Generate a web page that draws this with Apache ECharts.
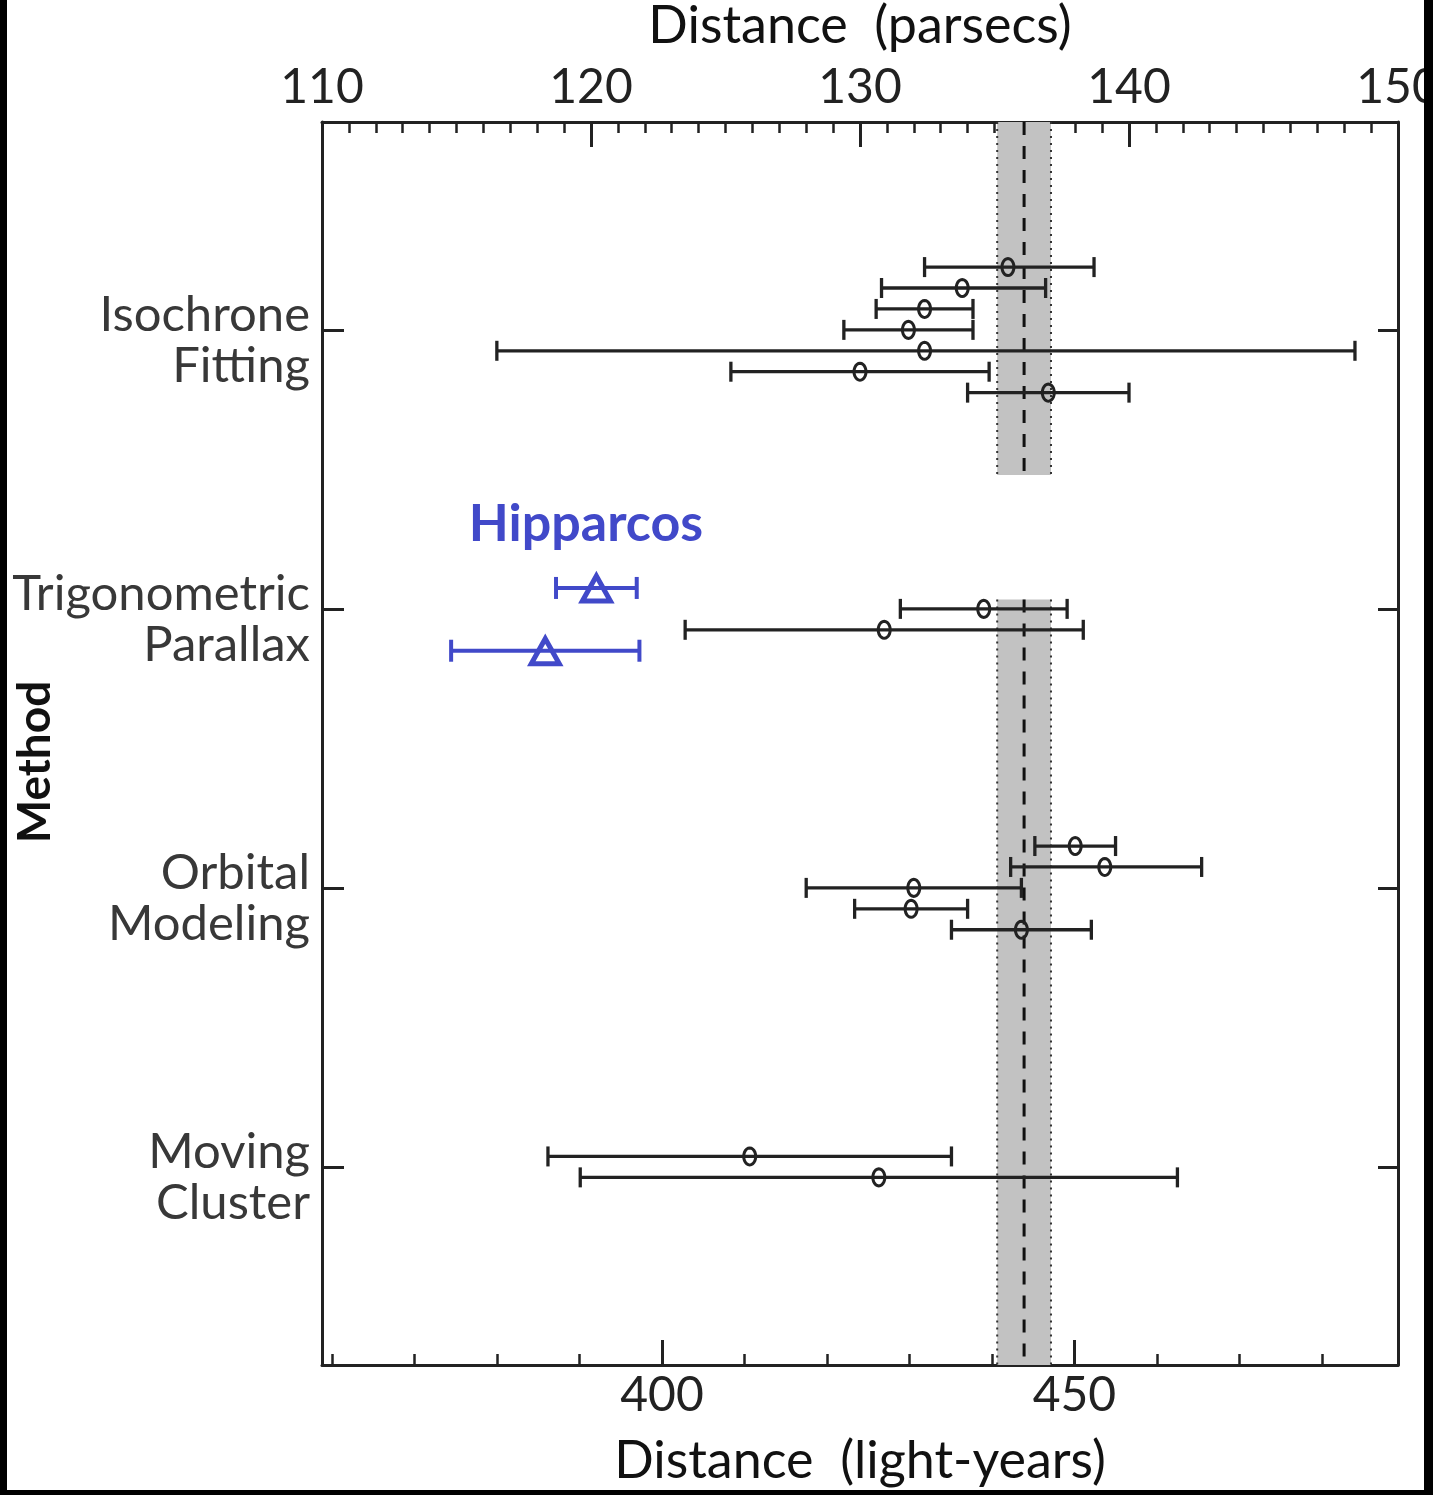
<!DOCTYPE html>
<html><head><meta charset="utf-8">
<script src="https://cdn.jsdelivr.net/npm/echarts@6/dist/echarts.min.js"></script>
<style>
html,body{margin:0;padding:0;background:#000;}
#wrap{position:relative;width:1433px;height:1495px;overflow:hidden;background:#000;}
#chart{position:absolute;left:0;top:0;width:1433px;height:1495px;}
.frame{position:absolute;background:#000;}
</style></head><body>
<div id="wrap">
<div id="chart"></div>
<div class="frame" style="left:0;top:0;width:7px;height:1495px"></div>
<div class="frame" style="left:1424px;top:0;width:9px;height:1495px"></div>
<div class="frame" style="left:0;top:1490px;width:1433px;height:5px"></div>
</div>
<script>
// ---------- data ----------
const methods = ['Isochrone\nFitting', 'Trigonometric\nParallax', 'Orbital\nModeling', 'Moving\nCluster'];
const topTicks = [110, 120, 130, 140, 150];          // parsecs
const lyMajorTicks = [400, 450];                      // light-years (labelled)
const lyMinorTicks = [360, 370, 380, 390, 400, 410, 420, 430, 440, 450, 460, 470, 480];
const PC_TO_LY = 3.26156;

// Isochrone fitting (pc)
const isoBest = [135.5, 133.8, 132.4, 131.8, 132.4, 130.0, 137.0];
const isoLow  = [132.4, 130.8, 130.6, 129.4, 116.5, 125.2, 134.0];
const isoHigh = [138.7, 136.9, 134.2, 134.2, 148.4, 134.8, 140.0];
const isoSlot = [-3, -2, -1, 0, 1, 2, 3];
// Trigonometric parallax (pc)
const trigBest = [134.6, 130.9];
const trigLow  = [131.5, 123.5];
const trigHigh = [137.7, 138.3];
const trigSlot = [0, 1];
// Hipparcos (pc)
const hipBest = [120.2, 118.3];
const hipLow  = [118.7, 114.8];
const hipHigh = [121.7, 121.8];
const hipSlot = [-1, 2];
// Orbital modeling (pc)
const orbBest = [138.0, 139.1, 132.0, 131.9, 136.0];
const orbLow  = [136.5, 135.6, 128.0, 129.8, 133.4];
const orbHigh = [139.5, 142.7, 136.0, 134.0, 138.6];
const orbSlot = [-2, -1, 0, 1, 2];
// Moving cluster (pc)
const mcBest = [125.9, 130.7];
const mcLow  = [118.4, 119.6];
const mcHigh = [133.4, 141.8];
const mcSlot = [-0.5, 0.5];
// VLBI reference distance (pc)
const vlbiDist = 136.1, vlbiLow = 135.1, vlbiHigh = 137.1;

// ---------- layout ----------
const SLOT = 0.075;
const Y_MIN = -0.745, Y_MAX = 3.71;
const BAND_GAP = [0.52, 0.966];
const FONT = 'Lato';
const DARK = '#222';
const BLUE = '#4149c9';

function rows(cat, best, low, high, slot) {
  return best.map((b, i) => [b, cat + slot[i] * SLOT, low[i], high[i]]);
}
const blackData = [].concat(
  rows(0, isoBest, isoLow, isoHigh, isoSlot),
  rows(1, trigBest, trigLow, trigHigh, trigSlot),
  rows(2, orbBest, orbLow, orbHigh, orbSlot),
  rows(3, mcBest, mcLow, mcHigh, mcSlot)
);
const blueData = rows(1, hipBest, hipLow, hipHigh, hipSlot);

function errRender(color, width, capHalf, markerFn) {
  return function (params, api) {
    const y = api.value(1);
    const c = api.coord([api.value(0), y]);
    const l = api.coord([api.value(2), y]);
    const h = api.coord([api.value(3), y]);
    const st = { stroke: color, lineWidth: width, fill: null };
    return {
      type: 'group',
      children: [
        { type: 'line', shape: { x1: l[0], y1: c[1], x2: h[0], y2: c[1] }, style: st },
        { type: 'line', shape: { x1: l[0], y1: c[1] - capHalf, x2: l[0], y2: c[1] + capHalf }, style: st },
        { type: 'line', shape: { x1: h[0], y1: c[1] - capHalf, x2: h[0], y2: c[1] + capHalf }, style: st },
        markerFn(c[0], c[1])
      ]
    };
  };
}
function ellipseMarker(cx, cy) {
  const pts = [];
  for (let k = 0; k < 24; k++) {
    const a = 2 * Math.PI * k / 24;
    pts.push([cx + 6 * Math.cos(a), cy + 8.5 * Math.sin(a)]);
  }
  return { type: 'polygon', shape: { points: pts }, style: { stroke: DARK, lineWidth: 3, fill: 'rgba(0,0,0,0)' } };
}
function triMarker(cx, cy) {
  return { type: 'polygon', shape: { points: [[cx, cy - 12], [cx + 14, cy + 13], [cx - 14, cy + 13]] },
           style: { stroke: BLUE, lineWidth: 5, fill: 'rgba(0,0,0,0)', lineJoin: 'miter' } };
}

const bandData = [
  [vlbiLow, vlbiHigh, vlbiDist, Y_MIN, BAND_GAP[0]],
  [vlbiLow, vlbiHigh, vlbiDist, BAND_GAP[1], Y_MAX]
];
function bandRender(params, api) {
  const a = api.coord([api.value(0), api.value(3)]);
  const b = api.coord([api.value(1), api.value(4)]);
  const m = api.coord([api.value(2), api.value(3)]);
  const top = Math.min(a[1], b[1]), bot = Math.max(a[1], b[1]);
  return {
    type: 'group',
    children: [
      { type: 'rect', shape: { x: a[0], y: top, width: b[0] - a[0], height: bot - top }, style: { fill: '#c2c2c2' } },
      { type: 'line', shape: { x1: a[0], y1: top, x2: a[0], y2: bot }, style: { stroke: '#333', lineWidth: 2, lineDash: [2, 5] } },
      { type: 'line', shape: { x1: b[0], y1: top, x2: b[0], y2: bot }, style: { stroke: '#333', lineWidth: 2, lineDash: [2, 5] } },
      { type: 'line', shape: { x1: m[0], y1: top, x2: m[0], y2: bot }, style: { stroke: '#111', lineWidth: 3, lineDash: [13, 11] } }
    ]
  };
}

const chart = echarts.init(document.getElementById('chart'), null, { renderer: 'canvas' });
const axisLineStyle = { color: '#222', width: 3 };
const labelStyle = { fontFamily: FONT, fontSize: 48, color: '#222' };
chart.setOption({
  backgroundColor: '#fff',
  animation: false,
  textStyle: { fontFamily: FONT },
  grid: { left: 322, top: 122, right: 35, bottom: 130, outerBoundsMode: 'none', containLabel: false },
  xAxis: [
    {
      type: 'value', position: 'top', min: topTicks[0], max: topTicks[topTicks.length - 1], interval: 10,
      axisLine: { show: true, onZero: false, lineStyle: axisLineStyle },
      axisTick: { show: true, inside: true, length: 25, lineStyle: { color: '#222', width: 3 } },
      minorTick: { show: true, splitNumber: 10, length: 11, lineStyle: { color: '#222', width: 2.5 } },
      splitLine: { show: false }, minorSplitLine: { show: false },
      axisLabel: Object.assign({ margin: 10 }, labelStyle),
      name: 'Distance  (parsecs)', nameLocation: 'middle', nameGap: 70,
      nameTextStyle: { fontFamily: FONT, fontSize: 52, color: '#111' }
    },
    {
      type: 'value', position: 'bottom', min: topTicks[0] * PC_TO_LY, max: topTicks[topTicks.length - 1] * PC_TO_LY,
      axisLine: { show: true, onZero: false, lineStyle: axisLineStyle },
      axisTick: { show: true, inside: true, length: 25, customValues: lyMajorTicks, lineStyle: { color: '#222', width: 3 } },
      splitLine: { show: false },
      axisLabel: Object.assign({ margin: 7, customValues: lyMajorTicks }, labelStyle),
      name: 'Distance  (light-years)', nameLocation: 'middle', nameGap: 70,
      nameTextStyle: { fontFamily: FONT, fontSize: 52, color: '#111' }
    },
    {
      type: 'value', position: 'bottom', min: topTicks[0] * PC_TO_LY, max: topTicks[topTicks.length - 1] * PC_TO_LY,
      axisLine: { show: false, onZero: false },
      axisTick: { show: true, inside: true, length: 11, customValues: lyMinorTicks, lineStyle: { color: '#222', width: 2.5 } },
      splitLine: { show: false },
      axisLabel: { show: false }
    }
  ],
  yAxis: [
    {
      type: 'value', position: 'left', inverse: true, min: Y_MIN, max: Y_MAX,
      axisLine: { show: true, onZero: false, lineStyle: axisLineStyle },
      axisTick: { show: true, inside: true, length: 22, customValues: [0, 1, 2, 3], lineStyle: { color: '#222', width: 3 } },
      splitLine: { show: false },
      axisLabel: {
        customValues: [0, 1, 2, 3],
        formatter: v => '{s| }\n' + methods[Math.round(v)].split('\n').map(t => '{a|' + t + '}').join('\n'),
        margin: 12, align: 'right',
        rich: {
          s: { fontSize: 10, lineHeight: 22 },
          a: { fontFamily: FONT, fontSize: 49, lineHeight: 51, color: '#383838' }
        }
      }
    },
    {
      type: 'value', position: 'right', inverse: true, min: Y_MIN, max: Y_MAX,
      axisLine: { show: true, onZero: false, lineStyle: axisLineStyle },
      axisTick: { show: true, inside: true, length: 20, customValues: [0, 1, 2, 3], lineStyle: { color: '#222', width: 3 } },
      splitLine: { show: false },
      axisLabel: { show: false }
    }
  ],
  series: [
    { type: 'custom', name: 'VLBI', xAxisIndex: 0, yAxisIndex: 0, z: 1, renderItem: bandRender, data: bandData, clip: false },
    { type: 'custom', name: 'Published', xAxisIndex: 0, yAxisIndex: 0, z: 3, renderItem: errRender(DARK, 3.3, 10, ellipseMarker), data: blackData, clip: false },
    { type: 'custom', name: 'Hipparcos', xAxisIndex: 0, yAxisIndex: 0, z: 4, renderItem: errRender(BLUE, 4, 11, triMarker), data: blueData, clip: false }
  ],
  graphic: [
    { type: 'text', x: 35, y: 762, rotation: Math.PI / 2, z: 10,
      style: { text: 'Method', font: 'bold 46px ' + FONT, fill: '#111', align: 'center', verticalAlign: 'middle' } },
    { type: 'text', x: 586, y: 524, z: 10,
      style: { text: 'Hipparcos', font: 'bold 52px ' + FONT, fill: BLUE, align: 'center', verticalAlign: 'middle' } }
  ]
});
</script>
</body></html>
